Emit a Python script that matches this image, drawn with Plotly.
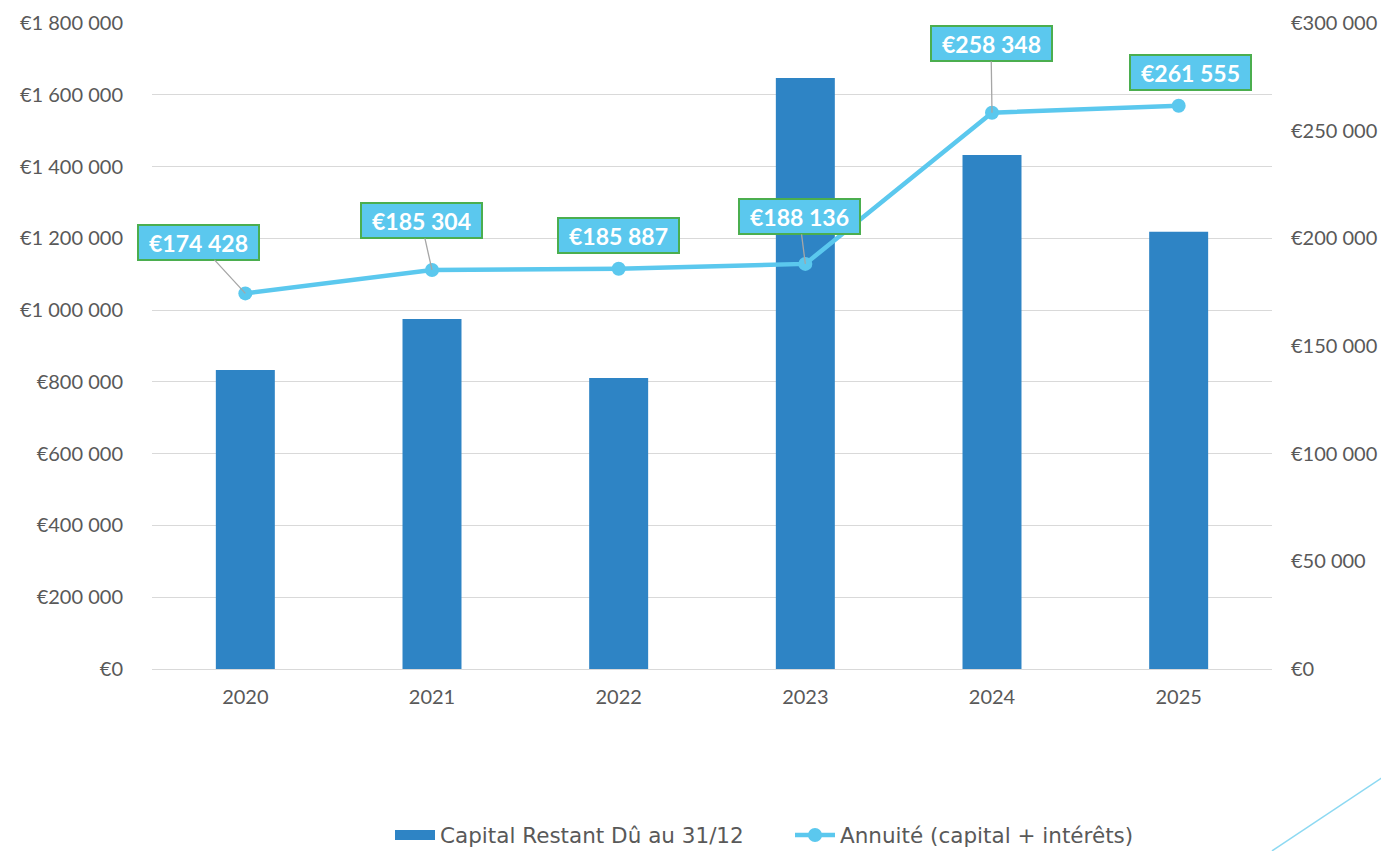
import plotly.graph_objects as go

years = ["2020", "2021", "2022", "2023", "2024", "2025"]
capital = [833000, 975000, 811000, 1647000, 1432000, 1218000]
annuite = [174428, 185304, 185887, 188136, 258348, 261555]

# label placement offsets (pixels) for the annuité labels
label_ax = [-47, -11, 0, -6, -1, 12]
label_ay = [-51, -49, -33, -47, -69, -33]
label_arrow = [True, True, False, True, True, False]

BAR = "#2E84C5"
LINE = "#5BC8EE"
TXT = "#595959"
GRID = "#D9D9D9"
FONT = "Lato"
NAME_BAR = "Capital Restant Dû au 31/12"
NAME_LINE = "Annuité (capital + intérêts)"

fig = go.Figure()
fig.add_trace(go.Bar(
    x=years, y=capital, name=NAME_BAR, legendgroup="bar", showlegend=False,
    marker=dict(color=BAR, line=dict(width=0)), width=0.316, yaxis="y",
))
# legend entry for the bars (wide rectangular swatch)
fig.add_trace(go.Scatter(
    x=[None], y=[None], name=NAME_BAR, legendgroup="bar", mode="lines",
    line=dict(color=BAR, width=13), yaxis="y",
))
fig.add_trace(go.Scatter(
    x=years, y=annuite, name=NAME_LINE, mode="lines+markers",
    line=dict(color=LINE, width=4.5), marker=dict(color=LINE, size=14), yaxis="y2",
))

def fmt(v):
    return "€" + f"{v:,}".replace(",", " ")

for i, (v, ax, ay, arr) in enumerate(zip(annuite, label_ax, label_ay, label_arrow)):
    common = dict(
        x=i, y=v, xref="x", yref="y2", text="<b>" + fmt(v) + "</b>",
        font=dict(family=FONT, size=23, color="white"),
        bgcolor=LINE, bordercolor="#4BAE4F", borderwidth=2, borderpad=1,
        width=117, height=31,
    )
    if arr:
        fig.add_annotation(**common, showarrow=True, ax=ax, ay=ay, axref="pixel", ayref="pixel",
                           arrowhead=0, arrowwidth=1.3, arrowcolor="#A6A6A6", standoff=0)
    else:
        fig.add_annotation(**common, showarrow=False, xshift=ax, yshift=-ay)

# decorative corner line
fig.add_shape(type="line", xref="paper", yref="paper", x0=1.0, y0=-0.2817, x1=1.1045, y1=-0.161,
              line=dict(color="#8DD9F2", width=1.5))

fig.update_layout(
    width=1389, height=851,
    margin=dict(l=144, r=125, t=15, b=190, autoexpand=False),
    paper_bgcolor="white", plot_bgcolor="white",
    separators=", ",
    font=dict(family=FONT, size=20, color=TXT),
    showlegend=True,
    legend=dict(orientation="h", x=0.2125, xanchor="left", y=-0.257, yanchor="middle",
                font=dict(family="DejaVu Sans", size=21.5, color=TXT), itemwidth=40,
                entrywidth=345),
    xaxis=dict(type="category", range=[-0.5, 5.5], showgrid=False, showline=True, linecolor=GRID, linewidth=1,
               tickfont=dict(family=FONT, size=20, color=TXT), ticks="", ticklabelstandoff=10),
    yaxis=dict(range=[0, 1800000], dtick=200000, tickprefix="€", tickformat=",d",
               showgrid=True, gridcolor=GRID, gridwidth=1, zeroline=False, showline=False,
               tickfont=dict(family=FONT, size=20, color=TXT), ticklabelstandoff=28),
    yaxis2=dict(range=[0, 300000], dtick=50000, tickprefix="€", tickformat=",d",
                overlaying="y", side="right", showgrid=False, zeroline=False, showline=False,
                tickfont=dict(family=FONT, size=20, color=TXT), ticklabelstandoff=18),
)

fig.write_html("out.html")
